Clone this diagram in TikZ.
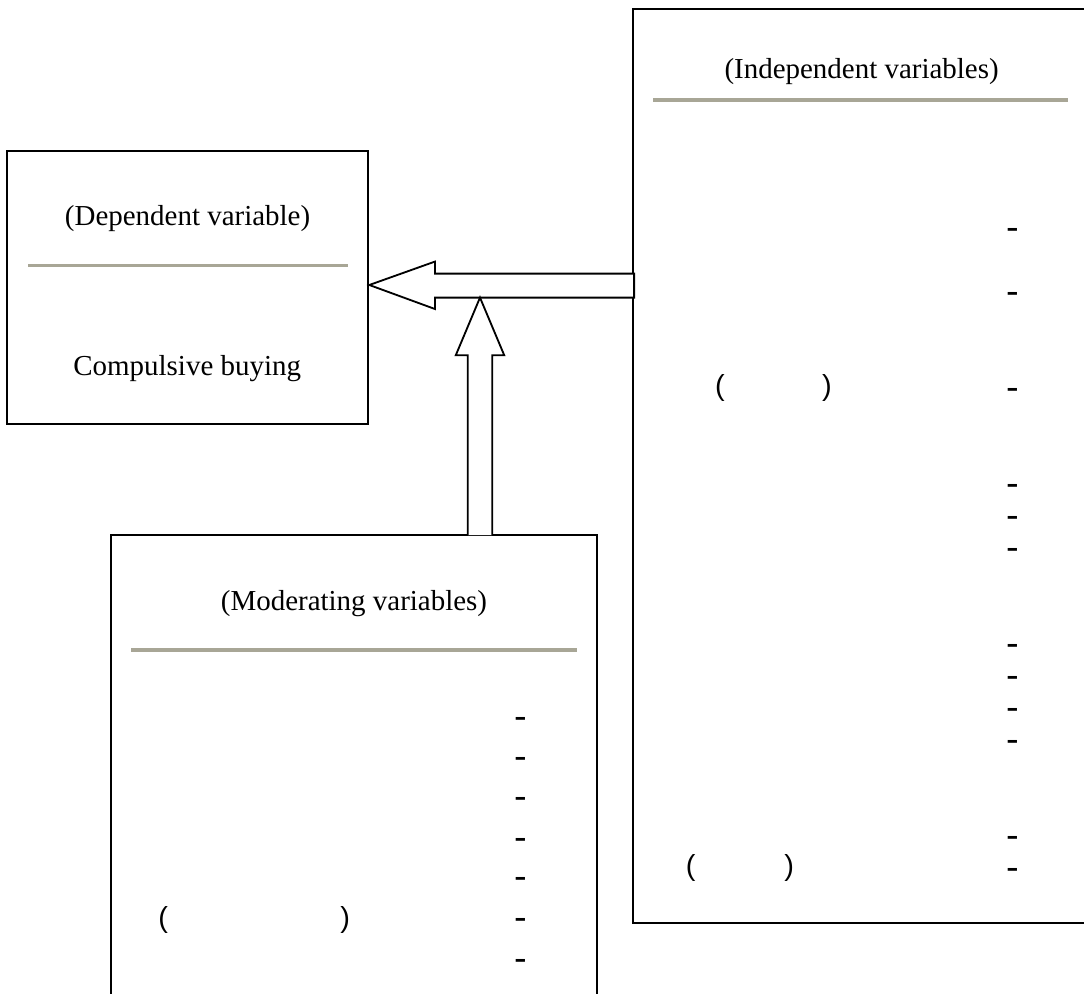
\documentclass[tikz,border=0pt]{standalone}
\usepackage{fontspec}
\setmainfont{Liberation Serif}
\newfontfamily\parenfont{Liberation Sans}
\newfontfamily\markfont{DejaVu Sans}
\definecolor{rulegray}{RGB}{168,166,150}

\begin{document}
\begin{tikzpicture}[
        varbox/.style={draw, line width=1.3pt, inner sep=0pt},
        rule/.style={rulegray, line width=2.4pt},
        title/.style={font=\fontsize{20.6}{24}\selectfont},
        dashtxt/.style={font=\markfont\fontsize{25}{28}\selectfont, inner sep=0pt, anchor=base, yshift=-0.24cm},
        parens/.style={font=\parenfont\fontsize{20.6}{24}\selectfont, inner sep=0pt},
        blockarrow/.style={draw, line width=1.3pt, fill=white, line join=miter}
    ]
        \useasboundingbox (0,0) rectangle (27.1,24.85);
        \clip (0,0) rectangle (27.1,24.85);

        % boxes
        \node[varbox, minimum width=9.03cm, minimum height=6.83cm] (dep) at (4.695,17.665) {};
        \node[varbox, minimum width=11.77cm, minimum height=22.85cm] (indep) at (21.715,13.205) {};
        \node[varbox, minimum width=12.16cm, minimum height=11.97cm] (mod) at (8.85,5.485) {};

        % titles
        \node[title] (depTitle) at (4.69,19.38) {(Dependent variable)};
        \node[title] (depName) at (4.68,15.63) {Compulsive buying};
        \node[title] (indepTitle) at (21.54,23.06) {(Independent variables)};
        \node[title] (modTitle) at (8.85,9.76) {(Moderating variables)};

        \draw[rule] (0.70,18.22) -- (8.69,18.22);
        \draw[rule] (16.33,22.35) -- (26.70,22.35);
        \draw[rule] (3.28,8.60) -- (14.43,8.60);

        % block arrows
        \draw[blockarrow] (dep.east) ++(0,0.06)
            -- ++(1.64,0.585) -- ++(0,-0.30) -- ++(4.98,0)
            -- ++(0,-0.60) -- ++(-4.98,0) -- ++(0,-0.285) -- cycle;
        \coordinate (modOut) at (12.0,11.47);
        \draw[blockarrow] (modOut) ++(-0.305,0)
            -- ++(0,4.50) -- ++(-0.30,0) -- ++(0.605,1.44)
            -- ++(0.605,-1.44) -- ++(-0.30,0) -- ++(0,-4.50);

        % list marks
        \foreach \y [count=\i] in {19.10,17.50,15.10,12.71,11.91,11.11,8.71,7.91,7.11,6.31,3.91,3.11}
            \node[dashtxt] (indepDash\i) at (25.31,\y) {-};
        \foreach \y [count=\i] in {6.88,5.88,4.87,3.85,2.87,1.85,0.83}
            \node[dashtxt] (modDash\i) at (13.02,\y) {-};

        \node[parens] (indepParA) at (19.335,15.15) {(\hspace{2.43cm})};
        \node[parens] (indepParB) at (18.50,3.14) {(\hspace{2.22cm})};
        \node[parens] (modPar) at (6.355,1.85) {(\hspace{4.31cm})};
\end{tikzpicture}
\end{document}
